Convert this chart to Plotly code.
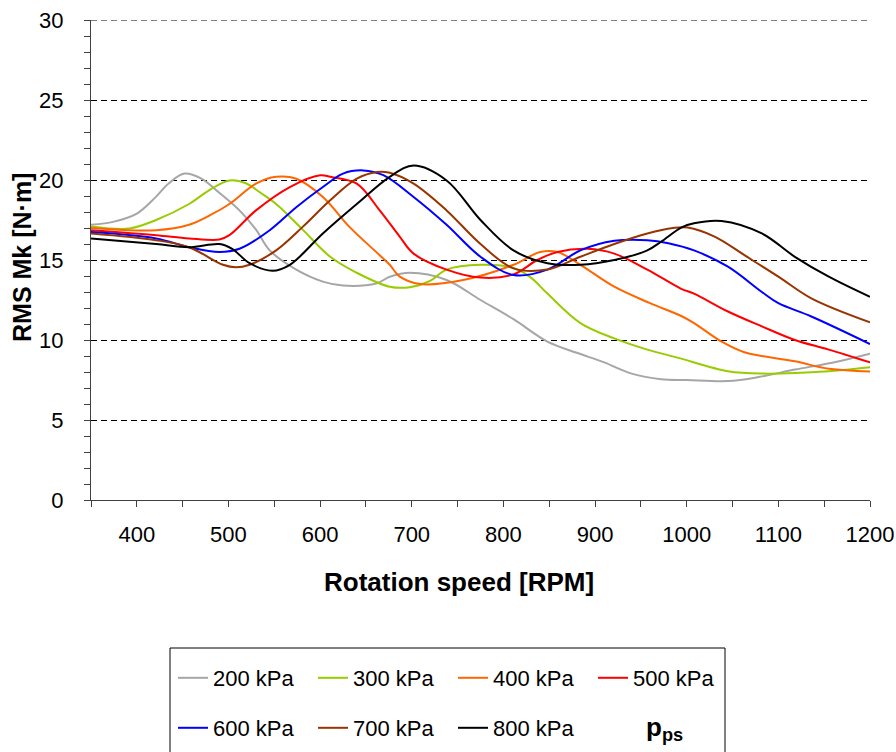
import plotly.graph_objects as go

# ---- data ----
rpm_200 = [350, 375, 400, 420, 435, 452, 470, 490, 512, 530, 545, 574, 603, 625, 662, 676, 698, 738, 775, 811, 848, 880, 910, 940, 972, 1000, 1045, 1080, 1118, 1160, 1200]
mk_200 = [17.2, 17.4, 17.9, 18.9, 19.8, 20.4, 20.1, 19.2, 18.1, 16.9, 15.6, 14.4, 13.65, 13.4, 13.55, 13.95, 14.2, 13.75, 12.5, 11.3, 9.9, 9.2, 8.6, 7.9, 7.55, 7.5, 7.43, 7.7, 8.15, 8.6, 9.15]

rpm_300 = [350, 392, 421, 457, 480, 501, 519, 535, 552, 581, 611, 640, 676, 698, 720, 738, 775, 811, 830, 848, 884, 921, 957, 990, 1045, 1082, 1155, 1200]
mk_300 = [17.1, 16.97, 17.5, 18.5, 19.4, 19.97, 19.8, 19.2, 18.5, 16.9, 15.2, 14.2, 13.33, 13.3, 13.7, 14.4, 14.7, 14.5, 13.9, 12.9, 11.06, 10.1, 9.4, 8.9, 8.05, 7.9, 8.05, 8.3]

rpm_400 = [350, 421, 457, 480, 501, 530, 552, 574, 603, 632, 665, 676, 687, 709, 756, 811, 840, 859, 884, 921, 960, 994, 1008, 1038, 1063, 1118, 1155, 1200]
mk_400 = [17.0, 16.86, 17.2, 17.8, 18.5, 19.77, 20.2, 20.08, 18.94, 17.07, 15.3, 14.7, 13.96, 13.5, 13.75, 14.7, 15.5, 15.5, 14.7, 13.33, 12.3, 11.5, 11.06, 9.9, 9.23, 8.67, 8.2, 8.03]

rpm_500 = [350, 421, 457, 490, 501, 530, 567, 600, 611, 640, 665, 687, 702, 738, 775, 811, 837, 859, 892, 921, 957, 994, 1008, 1045, 1082, 1118, 1155, 1200]
mk_500 = [16.86, 16.55, 16.35, 16.28, 16.55, 18.1, 19.56, 20.29, 20.2, 19.77, 18.1, 16.45, 15.4, 14.4, 13.9, 14.1, 15.0, 15.5, 15.7, 15.4, 14.4, 13.2, 12.9, 11.78, 10.85, 10.0, 9.4, 8.6]

rpm_600 = [350, 421, 457, 490, 512, 545, 574, 603, 625, 647, 669, 702, 738, 775, 811, 848, 884, 921, 957, 980, 1008, 1045, 1082, 1100, 1136, 1200]
mk_600 = [16.75, 16.35, 15.8, 15.5, 15.7, 16.86, 18.3, 19.56, 20.4, 20.6, 20.3, 18.94, 17.2, 15.2, 14.06, 14.4, 15.6, 16.2, 16.24, 16.05, 15.6, 14.58, 13.0, 12.3, 11.47, 9.75]

rpm_700 = [350, 421, 457, 494, 508, 523, 552, 581, 611, 640, 662, 676, 702, 738, 775, 811, 848, 884, 921, 957, 985, 1001, 1031, 1063, 1100, 1136, 1200]
mk_700 = [16.66, 16.24, 15.8, 14.7, 14.54, 14.7, 15.6, 17.07, 18.73, 20.08, 20.5, 20.45, 19.77, 18.1, 16.0, 14.48, 14.4, 15.2, 16.0, 16.66, 17.0, 17.03, 16.45, 15.3, 13.96, 12.6, 11.1]

rpm_800 = [350, 421, 457, 490, 504, 523, 548, 567, 603, 640, 676, 702, 738, 775, 811, 848, 884, 921, 957, 972, 994, 1008, 1038, 1082, 1118, 1155, 1200]
mk_800 = [16.35, 16.0, 15.8, 16.0, 15.7, 14.8, 14.33, 14.7, 16.66, 18.5, 20.2, 20.9, 19.97, 17.5, 15.6, 14.8, 14.7, 15.0, 15.6, 16.14, 17.03, 17.3, 17.44, 16.66, 15.2, 13.96, 12.7]

series_names = ["200 kPa", "300 kPa", "400 kPa", "500 kPa", "600 kPa", "700 kPa", "800 kPa"]
series_x = [rpm_200, rpm_300, rpm_400, rpm_500, rpm_600, rpm_700, rpm_800]
series_y = [mk_200, mk_300, mk_400, mk_500, mk_600, mk_700, mk_800]
colors = ["#A6A6A6", "#99CC00", "#FF6600", "#FF0000", "#0000FF", "#993300", "#000000"]
legend_ids = ["legend", "legend", "legend", "legend", "legend2", "legend2", "legend2"]

x_ticks = [400, 500, 600, 700, 800, 900, 1000, 1100, 1200]
y_ticks = [0, 5, 10, 15, 20, 25, 30]
y_max = 30

FONT = "Liberation Sans, Arial, sans-serif"

fig = go.Figure()
for name, xs, ys, c, lg in zip(series_names, series_x, series_y, colors, legend_ids):
    fig.add_trace(go.Scatter(x=xs, y=ys, mode="lines", name=name, legend=lg,
                             line=dict(color=c, width=2, shape="spline", smoothing=1)))

W, H = 779, 480
def px(xp):
    return (xp - 91) / W
def py(yp):
    return (500 - yp) / H

leg_common = dict(orientation="h", xanchor="left", yanchor="middle",
                  font=dict(family=FONT, size=22, color="#000000"),
                  bgcolor="rgba(0,0,0,0)", borderwidth=0,
                  entrywidth=95, entrywidthmode="pixels", itemclick=False)

fig.update_layout(
    width=896, height=752,
    margin=dict(l=91, r=26, t=20, b=252, autoexpand=False),
    paper_bgcolor="white", plot_bgcolor="white",
    font=dict(family=FONT, size=22, color="#000000"),
    showlegend=True,
    legend=dict(x=px(173), y=py(678), **leg_common),
    legend2=dict(x=px(173), y=py(728), **leg_common),
    xaxis=dict(range=[350, 1200], tickvals=x_ticks, ticks="outside", ticklen=6,
               tickcolor="#404040", showline=True, linecolor="#404040", linewidth=1,
               showgrid=False, zeroline=False, ticklabelstandoff=9,
               tickfont=dict(family=FONT, size=22),
               minor=dict(dtick=50, tick0=350, ticks="outside", ticklen=6, tickcolor="#404040", showgrid=False)),
    yaxis=dict(range=[0, y_max], tickvals=y_ticks, ticks="outside", ticklen=6,
               tickcolor="#404040", showline=True, linecolor="#404040", linewidth=1,
               showgrid=True, gridcolor="#000000", gridwidth=1, griddash="6px,4px",
               zeroline=False, ticklabelstandoff=16,
               tickfont=dict(family=FONT, size=22),
               minor=dict(dtick=1, ticks="outside", ticklen=6, tickcolor="#404040", showgrid=False)),
    shapes=[
        dict(type="rect", xref="paper", yref="paper",
             x0=px(170), x1=px(725), y0=py(648), y1=py(790),
             line=dict(color="#000000", width=1), fillcolor="rgba(0,0,0,0)"),
        dict(type="line", xref="paper", yref="y", x0=0, x1=1, y0=y_max, y1=y_max,
             line=dict(color="#000000", width=1, dash="6px,4px")),
    ],
    annotations=[
        dict(text="<b>Rotation speed [RPM]</b>", xref="paper", yref="paper",
             x=px(459), y=py(582), xanchor="center", yanchor="middle", showarrow=False,
             font=dict(family=FONT, size=26)),
        dict(text="<b>RMS Mk [N·m]</b>", xref="paper", yref="paper", textangle=-90,
             x=px(22), y=py(258), xanchor="center", yanchor="middle", showarrow=False,
             font=dict(family=FONT, size=25)),
        dict(text="<b>p<sub>ps</sub></b>", xref="paper", yref="paper",
             x=px(664), y=py(728), xanchor="center", yanchor="middle", showarrow=False,
             font=dict(family=FONT, size=26)),
    ],
)

fig.write_html("out.html")
